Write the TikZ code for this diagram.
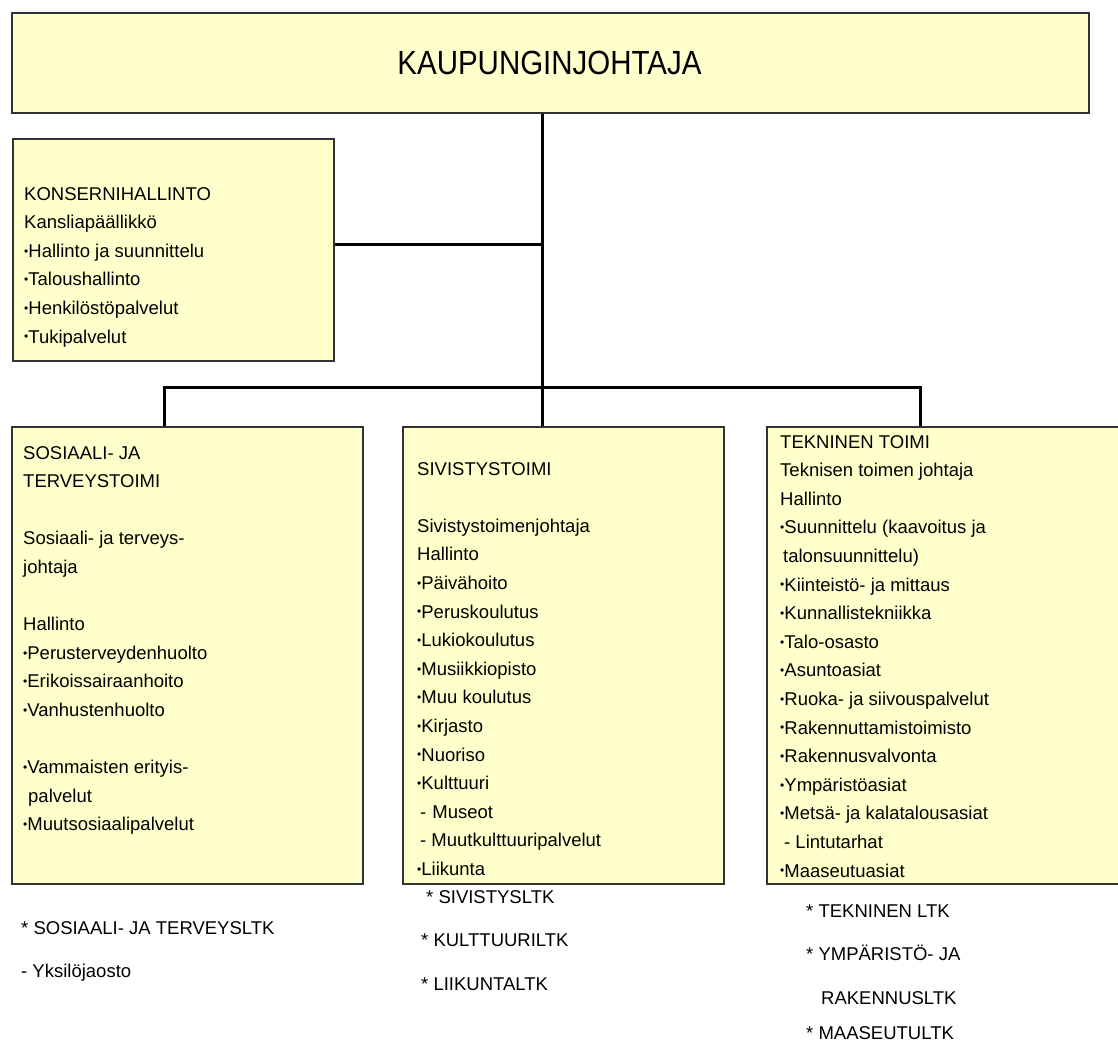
\documentclass[tikz,border=0pt]{standalone}
\usepackage{fontspec}
\setmainfont{Liberation Sans}
\newfontfamily\titlefont[FakeStretch=0.88]{Liberation Sans}
\definecolor{boxfill}{HTML}{FFFFCC}
\newcommand\stack[1]{\vtop{\halign{##\hfil\cr#1\crcr}}}
\newcommand\bu{\raisebox{2.2pt}{\fontsize{12}{12}\selectfont •}}
\begin{document}
\begin{tikzpicture}[x=1pt,y=-1pt,
  box/.style={draw=black!80, line width=1.8pt, fill=boxfill, anchor=north west, inner sep=0pt},
  conn/.style={line width=3pt, black, line join=miter},
  txt/.style={anchor=base west, inner sep=0pt, font=\fontsize{18.5}{28.6}\selectfont}]
\useasboundingbox (0,0) rectangle (1118,1046);
\clip (0,0) rectangle (1118,1046);
\fill[white] (0,0) rectangle (1118,1046);
% boxes
\node[box, minimum width=1077pt, minimum height=100pt] (top) at (11,12) {};
\node[box, minimum width=321pt, minimum height=222pt] (kons) at (12,138) {};
\node[box, minimum width=351pt, minimum height=457pt] (sos) at (11,426) {};
\node[box, minimum width=321pt, minimum height=457pt] (siv) at (402,426) {};
\node[box, minimum width=370pt, minimum height=457pt] (tek) at (766,426) {};
% junctions
\coordinate (j1) at (542,244);
\coordinate (j2) at (542,387);
\coordinate (bl) at (164,387);
\coordinate (br) at (920,387);
% connectors
\draw[conn] (top.south -| j1) -- (j2);
\draw[conn] (kons.east |- j1) -- (j1);
\draw[conn] (sos.north -| bl) -- (bl) -- (br) -- (br |- tek.north);
\draw[conn] (j2) -- (j2 |- siv.north);
% title
\node[anchor=base, inner sep=0pt, font=\titlefont\fontsize{33.5}{40}\selectfont] (title) at (549.5,75) {KAUPUNGINJOHTAJA};
% box texts
\node[txt] (konst) at (24,200) {\stack{KONSERNIHALLINTO\cr Kansliapäällikkö\cr \bu Hallinto ja suunnittelu\cr \bu Taloushallinto\cr \bu Henkilöstöpalvelut\cr \bu Tukipalvelut}};
\node[txt] (sost) at (23,459) {\stack{SOSIAALI- JA\cr TERVEYSTOIMI\cr\cr Sosiaali- ja terveys-\cr johtaja\cr\cr Hallinto\cr \bu Perusterveydenhuolto\cr \bu Erikoissairaanhoito\cr \bu Vanhustenhuolto\cr\cr \bu Vammaisten erityis-\cr \hspace{5pt}palvelut\cr \bu Muutsosiaalipalvelut}};
\node[txt] (sivt) at (417,475) {\stack{SIVISTYSTOIMI\cr\cr Sivistystoimenjohtaja\cr Hallinto\cr \bu Päivähoito\cr \bu Peruskoulutus\cr \bu Lukiokoulutus\cr \bu Musiikkiopisto\cr \bu Muu koulutus\cr \bu Kirjasto\cr \bu Nuoriso\cr \bu Kulttuuri\cr \hspace{3pt}-\hspace{6pt}Museot\cr \hspace{3pt}- Muutkulttuuripalvelut\cr \bu Liikunta}};
\node[txt] (tekt) at (780,448) {\stack{TEKNINEN TOIMI\cr Teknisen toimen johtaja\cr Hallinto\cr \bu Suunnittelu (kaavoitus ja\cr \hspace{3pt}talonsuunnittelu)\cr \bu Kiinteistö- ja mittaus\cr \bu Kunnallistekniikka\cr \bu Talo-osasto\cr \bu Asuntoasiat\cr \bu Ruoka- ja siivouspalvelut\cr \bu Rakennuttamistoimisto\cr \bu Rakennusvalvonta\cr \bu Ympäristöasiat\cr \bu Metsä- ja kalatalousasiat\cr \hspace{4pt}- Lintutarhat\cr \bu Maaseutuasiat}};
% committees
\node[txt] (sosltk) at (21,934) {* SOSIAALI- JA TERVEYSLTK};
\node[txt] (yks) at (21,977) {- Yksilöjaosto};
\node[txt] (sivltk) at (426,903) {* SIVISTYSLTK};
\node[txt] (kultltk) at (421,946) {* KULTTUURILTK};
\node[txt] (liikltk) at (421,990) {* LIIKUNTALTK};
\node[txt] (tekltk) at (806,917) {* TEKNINEN LTK};
\node[txt] (ympltk) at (806,960) {* YMPÄRISTÖ- JA};
\node[txt] (rakltk) at (821,1004) {RAKENNUSLTK};
\node[txt] (maasltk) at (806,1039) {* MAASEUTULTK};
\end{tikzpicture}
\end{document}
